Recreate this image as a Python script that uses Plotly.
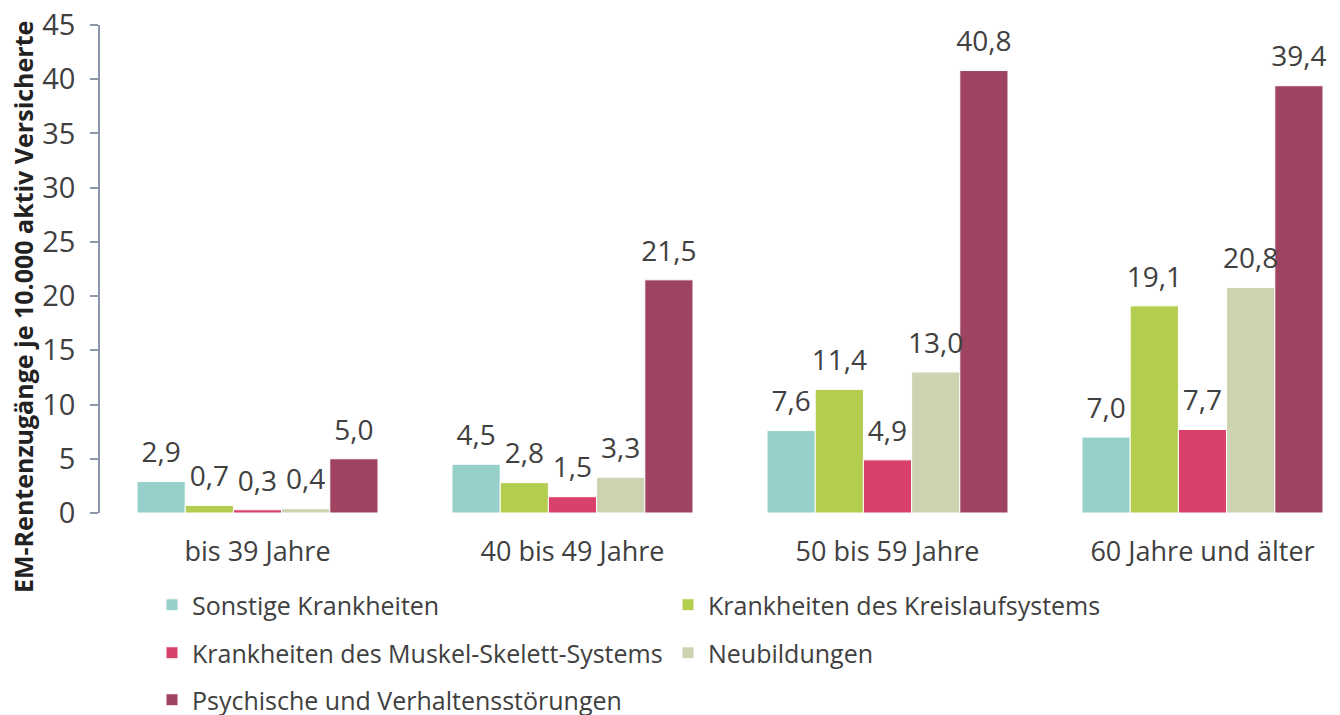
import plotly.graph_objects as go

categories = ["bis 39 Jahre", "40 bis 49 Jahre", "50 bis 59 Jahre", "60 Jahre und älter"]
series_names = [
    "Sonstige Krankheiten",
    "Krankheiten des Kreislaufsystems",
    "Krankheiten des Muskel-Skelett-Systems",
    "Neubildungen",
    "Psychische und Verhaltensstörungen",
]
sonstige = [2.9, 4.5, 7.6, 7.0]
kreislauf = [0.7, 2.8, 11.4, 19.1]
muskel = [0.3, 1.5, 4.9, 7.7]
neubildungen = [0.4, 3.3, 13.0, 20.8]
psychische = [5.0, 21.5, 40.8, 39.4]
values = [sonstige, kreislauf, muskel, neubildungen, psychische]
colors = ["#97d0ca", "#b3cd4f", "#d9416b", "#ccd3b1", "#9e4360"]
legend_ids = ["legend", "legend", "legend2", "legend2", "legend3"]

FONT = "Open Sans"
TXT = "#404040"

fig = go.Figure()
for name, vals, col, lg in zip(series_names, values, colors, legend_ids):
    fig.add_trace(go.Bar(
        name=name, x=categories, y=vals,
        marker=dict(color=col, line=dict(color="white", width=1)),
        legend=lg, hoverinfo="x+y+name",
    ))
# value labels, grouped like the bars
for name, vals in zip(series_names, values):
    fig.add_trace(go.Scatter(
        x=categories, y=vals, mode="markers+text",
        marker=dict(size=18, opacity=0),
        text=[f"{v:.1f}".replace(".", ",") for v in vals],
        textposition="top center", cliponaxis=False,
        textfont=dict(family=FONT, size=28, color=TXT),
        showlegend=False, hoverinfo="skip",
    ))

# page is rendered with an 8px body margin
OFF = 8
W, H = 1340 - OFF, 715 - OFF
PL, PT, PB = 100, 25, 513   # plot area in page pixels
L, R, T, B = PL - OFF, 0, PT - OFF, H - (PB - OFF)
plot_h = PB - PT
plot_w = 1340 - PL

def ly(py):
    return (PB - py) / plot_h

def lx(px):
    return (px - PL) / plot_w

leg_common = dict(orientation="h", x=lx(152), xanchor="left", yanchor="middle",
                  font=dict(family=FONT, size=25, color=TXT),
                  entrywidth=471, entrywidthmode="pixels", bgcolor="rgba(0,0,0,0)",
                  traceorder="normal")

fig.update_layout(
    width=W, height=H,
    margin=dict(l=L, r=R, t=T, b=B, autoexpand=False),
    paper_bgcolor="white", plot_bgcolor="white",
    barmode="group", bargap=0.235, bargroupgap=0,
    scattermode="group", scattergap=0.235,
    font=dict(family=FONT, color=TXT),
    showlegend=True,
    legend=dict(y=ly(605), **leg_common),
    legend2=dict(y=ly(653), **leg_common),
    legend3=dict(y=ly(700), **leg_common),
    xaxis=dict(range=[-0.5, -0.5 + plot_w / 315.0], showline=False, ticks="",
               showgrid=False, zeroline=False, ticklabelstandoff=20,
               tickfont=dict(family=FONT, size=27, color=TXT)),
    yaxis=dict(range=[0, 45], dtick=5, showgrid=False, zeroline=False,
               showline=True, linecolor="#8c96ab", linewidth=1.5,
               ticks="outside", ticklen=8, tickcolor="#8c96ab", tickwidth=1.5,
               ticklabelstandoff=9, ticklabeloverflow="allow",
               tickfont=dict(family=FONT, size=29, color=TXT)),
    annotations=[dict(
        text="<b>EM-Rentenzugänge je 10.000 aktiv Versicherte</b>",
        xref="paper", yref="paper", x=lx(23), y=ly(307),
        xanchor="center", yanchor="middle", textangle=-90, showarrow=False,
        font=dict(family=FONT, size=25, color="#222222"),
    )],
)

fig.write_html("out.html")
